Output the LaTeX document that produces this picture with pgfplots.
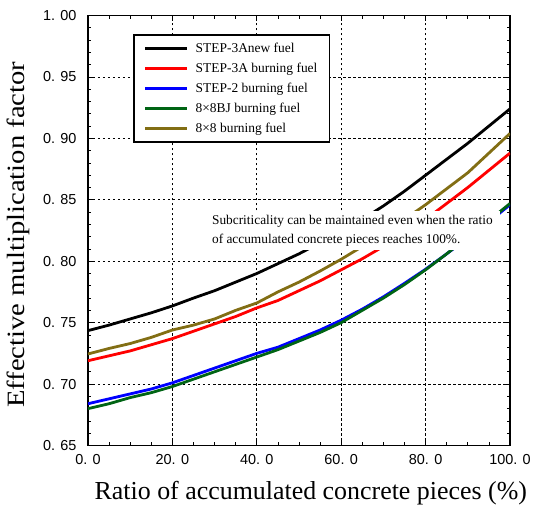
\documentclass[border=0pt]{standalone}
\usepackage{pgfplots}
\pgfplotsset{compat=1.18}
\usepackage{fontspec}
\setmainfont{Liberation Serif}
\newfontfamily\tickfont{Liberation Sans}
\newfontfamily\ylabfont[FakeStretch=1.15]{Liberation Serif}
\definecolor{mygreen}{RGB}{0,100,20}
\definecolor{myolive}{RGB}{130,110,20}
\pgfplotstableread{
x black red blue green olive
0 0.7435 0.719 0.684 0.680 0.7245
5 0.748 0.723 0.688 0.684 0.729
10 0.753 0.727 0.692 0.689 0.733
15 0.758 0.732 0.696 0.693 0.738
20 0.7636 0.737 0.701 0.698 0.744
25 0.770 0.743 0.707 0.704 0.748
30 0.776 0.749 0.713 0.710 0.753
35 0.783 0.755 0.719 0.716 0.760
40 0.790 0.762 0.725 0.722 0.766
45 0.798 0.768 0.730 0.728 0.775
50 0.806 0.776 0.737 0.735 0.783
55 0.815 0.784 0.744 0.742 0.792
60 0.824 0.793 0.752 0.750 0.8016
65 0.834 0.802 0.761 0.760 0.812
70 0.845 0.812 0.771 0.770 0.823
75 0.857 0.823 0.782 0.781 0.834
80 0.870 0.834 0.7935 0.793 0.846
85 0.883 0.847 0.806 0.806 0.859
90 0.896 0.860 0.819 0.820 0.872
95 0.910 0.874 0.832 0.833 0.888
100 0.924 0.888 0.846 0.847 0.904
}\data
\begin{document}
\begin{tikzpicture}
\begin{axis}[
  scale only axis, width=422bp, height=430bp,
  xmin=0, xmax=100, ymin=0.65, ymax=1.00,
  xtick={0,20,40,60,80,100},
  xticklabels={0. 0,20. 0,40. 0,60. 0,80. 0,100. 0},
  ytick={0.65,0.7,0.75,0.8,0.85,0.9,0.95,1.0},
  yticklabels={0. 65,0. 70,0. 75,0. 80,0. 85,0. 90,0. 95,1. 00},
  minor x tick num=3, minor y tick num=4,
  tick align=inside, major tick length=6bp, minor tick length=3.5bp,
  tick style={black, line width=0.8bp},
  grid=major,
  major grid style={black, line width=0.8bp, dash pattern=on 2.5bp off 2.5bp},
  axis line style={line width=1.3bp},
  tick label style={font=\tickfont\fontsize{14.5}{16}\selectfont},
  yticklabel style={xshift=-8bp},
  xticklabel style={yshift=-5bp},
  xlabel={Ratio of accumulated concrete pieces (\%)},
  ylabel={Effective multiplication factor},
  xlabel style={font=\fontsize{26}{30}\selectfont, at={(rel axis cs:0.528,-0.1267)}, anchor=base},
  ylabel style={font=\ylabfont\fontsize{25}{30}\selectfont, at={(rel axis cs:-0.1493,0.49)}, anchor=base},
  legend cell align=left,
  legend style={at={(rel axis cs:0.1066,0.957)}, anchor=north west, draw=black,
    line width=1.8bp, font=\fontsize{13.5}{16}\selectfont,
    inner xsep=10bp, inner ysep=6bp, row sep=5bp, column sep=5bp},
  legend image code/.code={\draw[#1] (0bp,0bp) -- (42bp,0bp);},
]
\addplot[black, line width=2.8bp] table[x=x,y=black]{\data};
\addlegendentry{STEP-3Anew fuel}
\addplot[red, line width=2.8bp] table[x=x,y=red]{\data};
\addlegendentry{STEP-3A burning fuel}
\addplot[blue, line width=2.8bp] table[x=x,y=blue]{\data};
\addlegendentry{STEP-2 burning fuel}
\addplot[mygreen, line width=2.8bp] table[x=x,y=green]{\data};
\addlegendentry{8{\texttimes}8BJ burning fuel}
\addplot[myolive, line width=2.8bp] table[x=x,y=olive]{\data};
\addlegendentry{8{\texttimes}8 burning fuel}
\node[fill=white, anchor=west, inner xsep=7bp, inner ysep=4bp, align=left,
  font=\fontsize{13.4}{19}\selectfont] at (axis cs:27.7,0.825)
  {Subcriticality can be maintained even when the ratio\\of accumulated concrete pieces reaches 100\%.};
\coordinate (ll) at (rel axis cs:0,0);
\coordinate (ur) at (rel axis cs:1,1);
\end{axis}
\path (ll) ++(-88bp,-63.5bp) coordinate (bl);
\path (ur) ++(23bp,15.5bp) coordinate (tr);
\pgfresetboundingbox
\path (bl) rectangle (tr);
\end{tikzpicture}
\end{document}
